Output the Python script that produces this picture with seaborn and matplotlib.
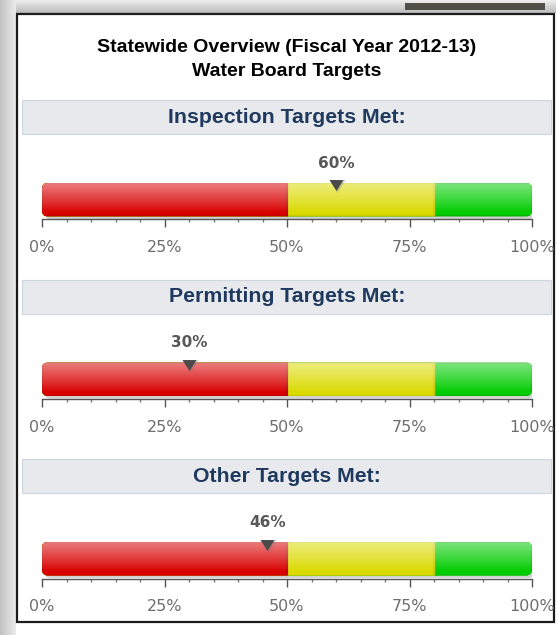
import numpy as np
import pandas as pd
import matplotlib
matplotlib.use("Agg")
import matplotlib.pyplot as plt
import seaborn as sns
from matplotlib.patches import FancyBboxPatch, Rectangle
from matplotlib.path import Path
import matplotlib.ticker as mticker

# ---------------- data ----------------
title_lines = ["Statewide Overview (Fiscal Year 2012-13)", "Water Board Targets"]
gauge_titles = ["Inspection Targets Met:", "Permitting Targets Met:", "Other Targets Met:"]
gauge_values = [60, 30, 46]
band_names = ["Low", "Mid", "High"]
band_limits = [50, 80, 100]          # upper edge of each colour band (%)
tick_values = [0, 25, 50, 75, 100]
tick_labels = ["0%", "25%", "50%", "75%", "100%"]

# ---------------- style ----------------
band_base = {"Low": "#d80000", "Mid": "#dada00", "High": "#00cc00"}
band_edge = {"Low": "#c40000", "Mid": "#caca00", "High": "#00b400"}

W, H, DPI = 556, 635, 100
sns.set_style("white")
fig = plt.figure(figsize=(W / DPI, H / DPI), dpi=DPI)
fig.patch.set_facecolor("white")

# background / frame axes in pixel coordinates
bg = fig.add_axes([0, 0, 1, 1], zorder=0)
bg.set_xlim(0, W)
bg.set_ylim(H, 0)
bg.axis("off")

img = np.ones((H, W, 3))
xs = np.arange(W)
ys = np.arange(H)
left = (xs < 16)
lv = 0.76 + (0.92 - 0.76) * np.clip(xs / 15.0, 0, 1)
img[:, left, :] = lv[left][None, :, None]
topmask = ys < 13
tv = 0.93 - (0.93 - 0.74) * np.clip(ys / 12.0, 0, 1)
for y in ys[topmask]:
    img[y, 16:, :] = np.minimum(img[y, 16:, :], tv[y])
bg.imshow(img, extent=(0, W, H, 0), aspect="auto", zorder=0, interpolation="bilinear")
bg.add_patch(Rectangle((405, 3), 140, 7, facecolor="#3a3a32", edgecolor="none", alpha=0.85, zorder=1))

bg.add_patch(Rectangle((17, 14), 537, 608, facecolor="white", edgecolor="#1c1c1c", lw=1.6, zorder=2))

bg.text(287, 48, title_lines[0], ha="center", va="center", fontsize=14, fontweight="bold",
        family="Liberation Sans", color="black", zorder=3)
bg.text(287, 72, title_lines[1], ha="center", va="center", fontsize=14, fontweight="bold",
        family="Liberation Sans", color="black", zorder=3)

step = 179.5
for i, gt in enumerate(gauge_titles):
    top = 100 + step * i
    bg.add_patch(Rectangle((22, top), 529, 34, facecolor="#e7e9ed", edgecolor="#cdd5e1", lw=0.8, zorder=3))
    bg.text(287, top + 17.5, gt, ha="center", va="center", fontsize=15.3, fontweight="bold",
            family="Liberation Sans", color="#1f3a5e", zorder=4)

# ---------------- gauges ----------------
bar_h_px = 33.5
ppy = bar_h_px / 0.8                  # pixels per y data unit
ppx = 490 / 100.0                     # pixels per x data unit
ylo = -0.4 - 3.0 / ppy
yhi = ylo + 70.0 / ppy

tri = Path([(-7, 5.5), (7, 5.5), (0, -5.5), (-7, 5.5)],
           [Path.MOVETO, Path.LINETO, Path.LINETO, Path.CLOSEPOLY])

order = band_names[::-1]
df = pd.DataFrame({"gauge": ["g"] * 3, "band": band_names, "limit": band_limits})

for i, val in enumerate(gauge_values):
    y_axis = 219.5 + step * i
    ax = fig.add_axes([42 / W, 1 - y_axis / H, 490 / W, 70 / H], zorder=5)
    ax.patch.set_alpha(0)

    sns.barplot(data=df, x="limit", y="gauge", hue="band", hue_order=order, dodge=False,
                palette=band_base, orient="h", width=0.8, saturation=1, ax=ax, legend=False,
                linewidth=1.6)
    for p, b in zip(ax.patches, order):
        p.set_edgecolor(band_edge[b])

    asp = ppx / ppy
    rr = 6.0 / ppx
    rounded = FancyBboxPatch((0, -0.4), 100, 0.8, boxstyle=f"round,pad=0,rounding_size={rr}",
                             mutation_aspect=asp, transform=ax.transData,
                             facecolor="none", edgecolor="none")
    shadow = FancyBboxPatch((0.5, -0.4 - 2.5 / ppy), 100, 0.8,
                            boxstyle=f"round,pad=0,rounding_size={rr}", mutation_aspect=asp,
                            facecolor="#808080", edgecolor="none", alpha=0.35, zorder=0.5)
    ax.add_patch(shadow)
    for p in ax.patches:
        if p is not shadow:
            p.set_clip_path(rounded)
            p.set_zorder(1)

    grad = np.zeros((64, 1, 4))
    grad[..., :3] = 1.0
    t = np.linspace(0, 1, 64)
    grad[:, 0, 3] = 0.5 * np.clip((t - 0.1) / 0.9, 0, 1) ** 0.9
    im = ax.imshow(grad, extent=(0, 100, -0.4, 0.4), origin="lower", aspect="auto",
                   zorder=2, interpolation="bilinear")
    im.set_clip_path(rounded)

    y_top = 0.4 + 3.0 / ppy
    y_tip = 0.4 - 8.0 / ppy
    yc = (y_top + y_tip) / 2
    sns.scatterplot(x=[val + 0.2], y=[yc - 1.0 / ppy], marker=tri, s=140, color="#707070",
                    alpha=0.3, linewidth=0, ax=ax, legend=False, zorder=3)
    sns.scatterplot(x=[val], y=[yc], marker=tri, s=100, color="#4a4a4a",
                    linewidth=0, ax=ax, legend=False, zorder=4)
    ax.text(val, 0.4 + 19.5 / ppy, f"{val}%", ha="center", va="center", fontsize=11,
            fontweight="bold", color="#585858", family="DejaVu Sans", zorder=4)

    ax.set_xlim(0, 100)
    ax.set_ylim(ylo, yhi)
    ax.set_xlabel("")
    ax.set_ylabel("")
    ax.set_yticks([])
    ax.set_xticks(tick_values)
    ax.set_xticklabels(tick_labels)
    ax.xaxis.set_minor_locator(mticker.MultipleLocator(5))
    ax.tick_params(axis="x", which="major", direction="out", length=5.8, width=1, color="#555555",
                   labelsize=11.5, labelcolor="#6e6e6e", pad=9, bottom=True)
    ax.tick_params(axis="x", which="minor", direction="out", length=2.2, width=1, color="#777777",
                   bottom=True)
    for lab in ax.get_xticklabels():
        lab.set_family("DejaVu Sans")
    for s in ["left", "top", "right"]:
        ax.spines[s].set_visible(False)
    ax.spines["bottom"].set_color("#555555")
    ax.spines["bottom"].set_linewidth(1)

fig.savefig("out.png", dpi=DPI)
